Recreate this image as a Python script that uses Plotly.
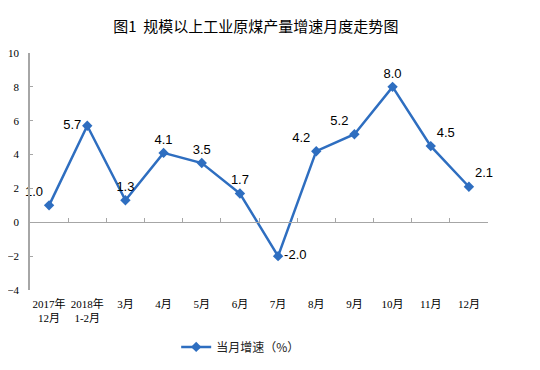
import plotly.graph_objects as go

categories = ["2017年<br>12月", "2018年<br>1-2月", "3月", "4月", "5月", "6月",
              "7月", "8月", "9月", "10月", "11月", "12月"]
growth = [1.0, 5.7, 1.3, 4.1, 3.5, 1.7, -2.0, 4.2, 5.2, 8.0, 4.5, 2.1]
series_name = "当月增速（%）"
title_text = "图1  规模以上工业原煤产量增速月度走势图"

label_pos = ["top left", "middle left", "top center", "top center", "top center",
             "top center", "middle right", "top left", "top left", "top center",
             "top right", "top right"]

line_color = "#2E6EC0"
axis_color = "#A6A6A6"
serif = "Liberation Serif, Noto Sans CJK SC, serif"

fig = go.Figure()
fig.add_trace(go.Scatter(
    x=categories, y=growth, name=series_name,
    mode="lines+markers+text",
    line=dict(color=line_color, width=2.5),
    marker=dict(symbol="diamond", size=8, color=line_color),
    text=[f"{v:.1f}" for v in growth],
    textposition=label_pos,
    textfont=dict(family="Liberation Sans, Arial, sans-serif", size=13, color="#000"),
    cliponaxis=False,
))
# invisible helper trace for the zero-line axis with boundary ticks
fig.add_trace(go.Scatter(
    x=categories, y=growth, xaxis="x2", mode="lines",
    line=dict(width=0), opacity=0, showlegend=False, hoverinfo="skip",
))

fig.update_layout(
    width=540, height=370,
    margin=dict(l=22, r=60, t=45, b=88),
    paper_bgcolor="white", plot_bgcolor="white",
    title=dict(text=title_text, x=0.459, xanchor="center", y=0.949, yanchor="middle",
               font=dict(family="Noto Sans CJK SC, sans-serif", size=15, color="#000")),
    xaxis=dict(type="category", showline=False, showgrid=False, zeroline=False,
               ticks="", tickfont=dict(family=serif, size=11, color="#000"),
               ticklabelstandoff=6,
               range=[-0.5, 11.5], automargin=False),
    xaxis2=dict(type="category", overlaying="x", anchor="free", position=4 / 14,
                side="bottom", showline=True, linecolor=axis_color, linewidth=1,
                ticks="inside", ticklen=4, tickcolor=axis_color, tickson="boundaries",
                showticklabels=False, showgrid=False, zeroline=False,
                range=[-0.5, 11.5], automargin=False),
    yaxis=dict(range=[-4, 10], dtick=2, showline=True, linecolor=axis_color, linewidth=1.5,
               ticks="inside", ticklen=3, tickcolor=axis_color, showgrid=False,
               zeroline=False, tickformat="d", automargin=False, ticklabelstandoff=7,
               tickfont=dict(family=serif, size=11, color="#000")),
    showlegend=True,
    legend=dict(orientation="h", x=0.46, xanchor="center", y=-0.24, yanchor="middle",
                font=dict(family="Noto Sans CJK SC, sans-serif", size=12, color="#222")),
)

fig.write_html("out.html")
